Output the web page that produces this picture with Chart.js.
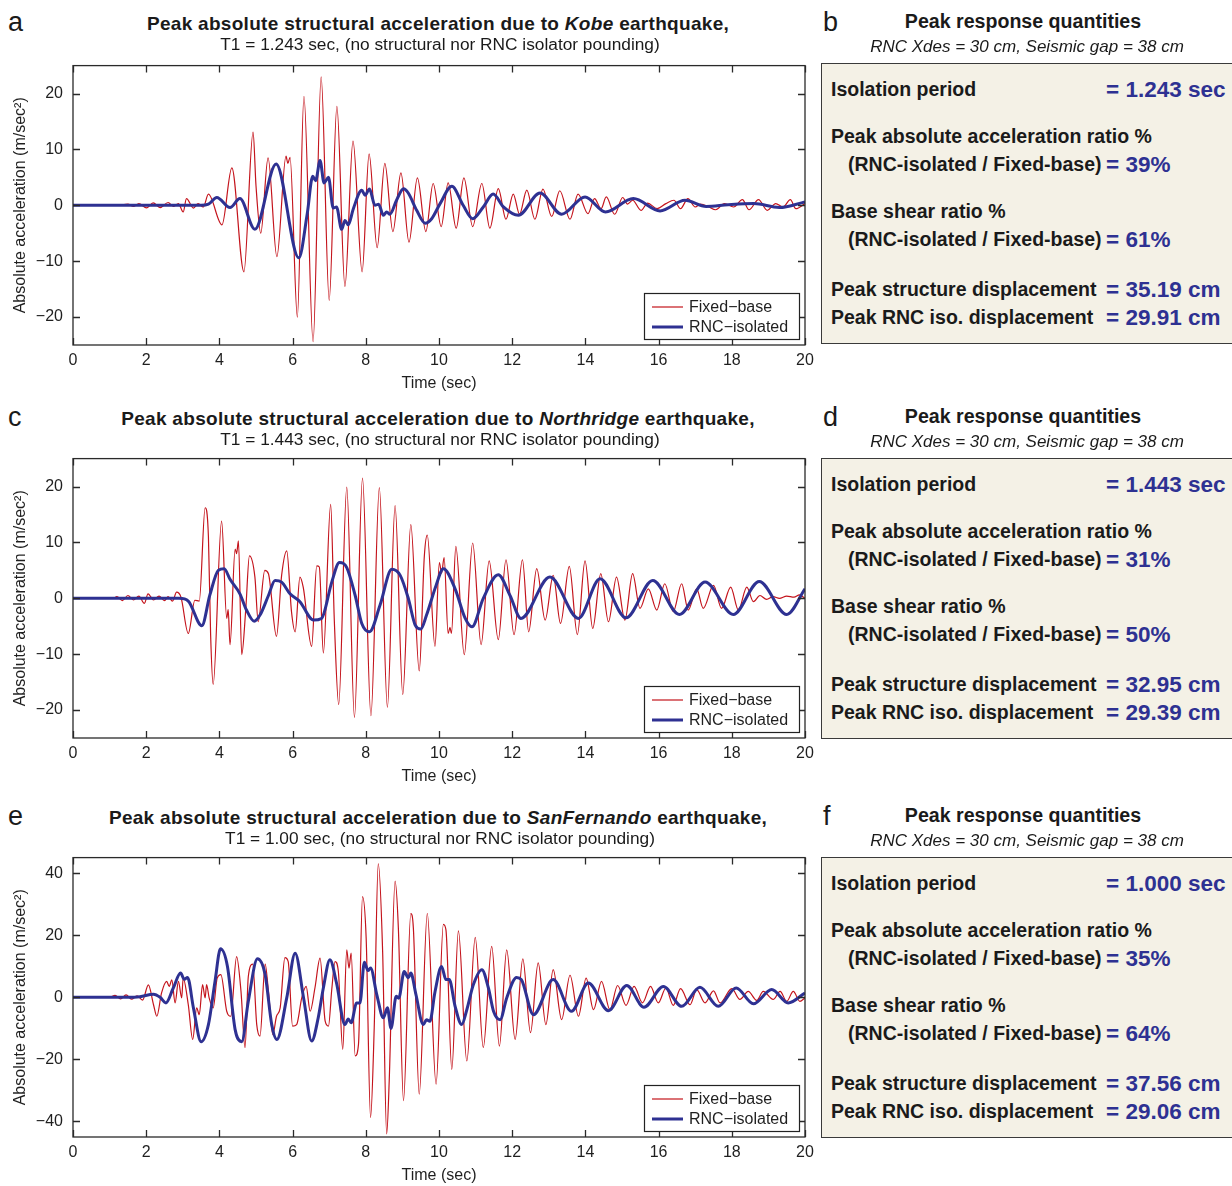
<!DOCTYPE html>
<html>
<head>
<meta charset="utf-8">
<script src="https://cdn.jsdelivr.net/npm/chart.js@4.4.0/dist/chart.umd.min.js"></script>
<style>
  body { margin: 0; background: #fff; font-family: 'Liberation Sans', Arial, sans-serif; color: #1a1a1a; }
  #page { position: relative; width: 1232px; height: 1186px; overflow: hidden; }
  .abs { position: absolute; white-space: nowrap; line-height: 1; }
  .letter { font-size: 27px; transform: translate(0, -50%); }
  .title { font-weight: bold; font-size: 19px; letter-spacing: 0.3px; transform: translate(-50%, -50%); }
  .sub { font-size: 17.3px; transform: translate(-50%, -50%); }
  .head { font-weight: bold; font-size: 19.6px; transform: translate(-50%, -50%); }
  .headsub { font-style: italic; font-size: 17px; transform: translate(-50%, -50%); }
  .box { position: absolute; left: 821px; width: 430px; height: 281px; background: #f4f1e6; border: 1.5px solid #3a3a3a; box-sizing: border-box; }
  .lbl { font-weight: bold; font-size: 19.5px; transform: translate(0, -50%); }
  .val { font-weight: bold; font-size: 22.5px; color: #2e3192; transform: translate(0, -50%); }
  canvas { position: absolute; left: 0; }
</style>
</head>
<body>
<div id="page">
  <canvas id="chartA" width="820" height="354" style="top:46px"></canvas>
  <canvas id="chartC" width="820" height="354" style="top:439px"></canvas>
  <canvas id="chartE" width="820" height="354" style="top:838px"></canvas>
</div>
<script>
// earthquake records and summary numbers
const quakes = ['Kobe', 'Northridge', 'SanFernando'];
const titlePeriods = ['1.243', '1.443', '1.00'];
const isolationPeriods = [1.243, 1.443, 1.000];
const accelRatios = [39, 31, 35];
const shearRatios = [61, 50, 64];
const structDisp = [35.19, 32.95, 37.56];
const isoDisp = [29.91, 29.39, 29.06];
const rncXdes = 30;
const seismicGap = 38;

const timeTicks = [0, 2, 4, 6, 8, 10, 12, 14, 16, 18, 20];
const accelTicks = [-20, -10, 0, 10, 20];
const accelTicksWide = [-40, -20, 0, 20, 40];
const seriesNames = ['Fixed\u2212base', 'RNC\u2212isolated'];

// [time (sec), acceleration (m/sec^2)] at the turning points of each response
const kobeFixed = [
  [0, 0], [1.2, 0], [1.5, 0.2], [1.65, -0.2], [1.8, 0.3], [2.01, -0.47], [2.19, 0.43], [2.38, -0.4],
  [2.6, 0.5], [2.74, -0.2], [2.88, 0.3], [3.01, -1.2], [3.1, 1.2], [3.29, -0.5], [3.42, 0.3], [3.56, -0.3],
  [3.7, 2.0], [4.07, -3.5], [4.34, 6.7], [4.67, -11.9], [4.92, 13.1], [5.0, 3.5], [5.13, -5.0], [5.33, 8.5],
  [5.57, -9.2], [5.82, 8.8], [5.87, 7.5], [5.93, 8.6], [6.13, -20], [6.31, 19.5], [6.56, -24.4], [6.78, 23],
  [7.0, -17], [7.21, 17.7], [7.43, -14.5], [7.65, 11.5], [7.9, -11.9], [8.09, 9.2], [8.31, -7.6], [8.52, 7.5],
  [8.74, -4.7], [8.96, 5.8], [9.18, -6.6], [9.41, 4.9], [9.64, -4.7], [9.84, 3.9], [10.06, -3.8], [10.25, 4.0],
  [10.47, -4.1], [10.68, 4.9], [10.92, -3.8], [11.17, 3.9], [11.39, -4.1], [11.62, 3.0], [11.83, -2.5], [12.03, 2.0],
  [12.2, -1.6], [12.4, 2.7], [12.62, -2.5], [12.84, 2.9], [13.08, -2.0], [13.3, 2.6], [13.58, -2.5], [13.8, 2.0],
  [14.07, -1.5], [14.25, 1.2], [14.43, -0.6], [14.57, 1.5], [14.8, -1.6], [15.02, 1.4], [15.15, 0.2], [15.29, 0.9],
  [15.52, -0.9], [15.7, 0.4], [15.96, -0.6], [16.2, 0.3], [16.42, 0.9], [16.6, -0.6], [16.8, 1.2], [17.0, -0.3],
  [17.15, 0.2], [17.35, -0.2], [17.56, -0.8], [17.8, 0.3], [18.05, -0.3], [18.29, 1.0], [18.47, -0.8], [18.73, 1.0],
  [18.97, -0.9], [19.2, 0.3], [19.4, -0.3], [19.6, 1.0], [19.75, -0.6], [20, 0.3]
];
const kobeIso = [
  [0, 0], [3.5, 0], [3.7, 0.2], [3.93, 1.4], [4.29, -0.4], [4.56, 1.2], [4.97, -4.3], [5.55, 7.4],
  [6.17, -9.4], [6.4, -1.5], [6.55, 5.2], [6.63, 4.4], [6.75, 8.0], [6.86, 4.0], [6.98, 5.0], [7.11, -0.5],
  [7.2, -0.3], [7.34, -4.3], [7.43, -2.7], [7.52, -3.5], [7.66, -0.6], [7.89, 2.7], [7.98, 1.8], [8.1, 2.9],
  [8.25, 0], [8.35, 0.2], [8.48, -1.8], [8.57, -1.2], [8.66, -1.6], [8.84, 0.9], [9.03, 2.95], [9.16, 2.2],
  [9.39, -0.9], [9.62, -3.2], [9.8, -2.4], [10.03, 0.3], [10.35, 3.4], [10.66, 0], [10.92, -2.4], [11.21, -0.3],
  [11.48, 2.0], [11.76, -0.3], [12.17, -1.8], [12.76, 2.2], [13.35, -1.6], [13.99, 1.5], [14.55, -1.2], [15.31, 1.2],
  [16.04, -1.0], [16.72, 0.9], [17.3, -0.2], [17.9, 0.1], [18.6, 0.3], [19.3, -0.4], [20, 0.6]
];

const northFixed = [
  [0, 0], [1.1, 0], [1.2, 0.3], [1.35, -0.4], [1.5, 0.5], [1.65, -0.3], [1.8, 0.4], [1.95, -0.9],
  [2.05, 0.8], [2.2, -0.3], [2.35, 0.4], [2.5, -0.4], [2.6, 0.3], [2.72, -0.5], [2.83, 1.1], [2.95, 0.2],
  [3.15, -6.3], [3.33, -0.35], [3.45, -0.5], [3.61, 16.2], [3.7, 11], [3.76, -6.5], [3.83, -15.4], [4.06, 13.8],
  [4.2, -3.6], [4.24, -2.0], [4.29, -8.3], [4.43, 8.8], [4.47, 8.0], [4.52, 10.3], [4.61, -10.1], [4.72, -2],
  [4.82, 7.6], [4.97, 3.8], [5.06, -4.2], [5.24, 5.0], [5.34, 4.4], [5.56, -6.8], [5.7, 4.1], [5.84, 8.5],
  [5.97, -2.4], [6.07, -6.0], [6.2, 3.8], [6.29, 2.0], [6.52, -8.6], [6.66, 5.8], [6.73, 5.6], [6.84, -9.8],
  [7.04, 16.8], [7.14, -4], [7.26, -19], [7.48, 19.9], [7.69, -21.3], [7.91, 21.5], [8.14, -21], [8.37, 19.8],
  [8.59, -19.5], [8.8, 16.6], [9.01, -17.2], [9.23, 13.2], [9.46, -13], [9.6, 7.6], [9.68, 11.3], [9.89, -8.6],
  [10.01, 6.4], [10.07, 4.5], [10.14, 7.3], [10.25, -6.3], [10.3, -5.2], [10.34, -6.3], [10.46, 9.3], [10.69, -10.1],
  [10.92, 9.9], [11.15, -8.3], [11.37, 6.7], [11.62, -7.4], [11.83, 6.9], [12.05, -6.5], [12.28, 6.9], [12.45, -6],
  [12.67, 5.3], [12.9, -3.9], [13.12, 4.1], [13.32, -4.5], [13.56, 5.7], [13.78, -6.5], [13.99, 6.7], [14.2, -5.4],
  [14.42, 4.4], [14.63, -4.2], [14.85, 3.8], [15.08, -3.9], [15.29, 4.4], [15.49, -1.8], [15.72, 1.7], [15.95, -2.1],
  [16.17, 2.6], [16.4, -2.4], [16.63, 2.6], [16.81, -2.1], [17.04, 1.7], [17.22, -1.8], [17.5, 2.3], [17.72, -1.8],
  [17.97, 2.0], [18.18, -2.1], [18.41, 2.0], [18.59, -0.6], [18.77, 0.5], [18.95, -0.2], [19.13, 0.3], [19.3, 0.0],
  [19.5, 0.4], [19.7, 0.2], [19.85, 0.6], [20, 0]
];
const northIso = [
  [0, 0], [2.9, 0], [3.15, -0.5], [3.52, -4.9], [3.74, 0.6], [3.97, 5.0], [4.13, 5.3], [4.29, 3.4],
  [4.56, 0.8], [4.74, -2.1], [4.95, -4.1], [5.11, -3.0], [5.34, 0.5], [5.52, 3.2], [5.7, 2.9], [5.93, 0.8],
  [6.2, -0.6], [6.57, -3.9], [6.79, -3.6], [7.07, 2.9], [7.28, 6.4], [7.48, 5.5], [7.71, 0.5], [7.89, -4.5],
  [8.1, -6.0], [8.39, -1.2], [8.71, 5.2], [8.94, 4.1], [9.16, 0], [9.35, -4.8], [9.5, -5.5], [9.66, -3.0],
  [9.92, 2.3], [10.12, 5.3], [10.44, 1.7], [10.71, -3.5], [10.9, -5.1], [11.21, 0], [11.62, 4.2], [11.94, 0.5],
  [12.24, -3.6], [13.03, 3.8], [13.81, -3.6], [14.4, 3.5], [15.11, -3.5], [15.84, 3.2], [16.57, -2.9], [17.27, 2.9],
  [18.04, -2.9], [18.75, 3.0], [19.5, -2.9], [20, 1.7]
];

const sanFerFixed = [
  [0, 0], [1.0, 0], [1.15, 0.6], [1.3, -0.5], [1.45, 0.8], [1.6, -0.6], [1.75, 0.5], [1.9, -0.9],
  [2.06, 4.0], [2.2, -2.4], [2.29, -6.1], [2.42, 1.4], [2.56, 5.1], [2.63, 3.5], [2.7, 5.6], [2.79, -1.8],
  [2.88, 5.1], [2.97, -0.2], [3.01, 6.2], [3.15, -2.4], [3.27, -13.6], [3.38, -3.4], [3.45, -5.6], [3.54, 4.1],
  [3.61, -0.2], [3.65, 4.1], [3.72, -0.2], [3.83, -3.4], [3.94, 6.2], [4.04, 7.3], [4.2, -4.5], [4.31, -6.1],
  [4.47, 13.1], [4.59, 1.9], [4.7, -16.2], [4.79, 6.7], [4.91, 10.7], [5.02, -8.8], [5.11, -12.5], [5.25, 10.7],
  [5.34, 1.9], [5.46, -12], [5.56, -6.1], [5.66, -3.4], [5.79, 12.8], [5.88, 11.5], [6.0, -9.3], [6.11, -8.8],
  [6.25, -0.2], [6.37, 3.5], [6.48, -4.5], [6.61, 3.0], [6.75, 12.6], [6.89, -7.7], [6.98, -9.3], [7.07, 2.5],
  [7.16, 11.5], [7.25, 8.3], [7.37, -16.8], [7.48, 15.3], [7.54, 9.4], [7.6, 14.2], [7.71, -18.9], [7.8, -15.2],
  [7.91, 32.4], [8.01, 19], [8.13, -38.7], [8.23, -9.8], [8.34, 43], [8.46, 14.7], [8.57, -44], [8.64, -26.9],
  [8.8, 37.4], [8.89, 22.2], [9.03, -33.3], [9.23, 27], [9.3, 22.2], [9.46, -31.2], [9.68, 27], [9.92, -28],
  [10.12, 23.5], [10.19, 21.7], [10.35, -23.2], [10.53, 21.4], [10.76, -20.5], [10.99, 19.3], [11.21, -16.2], [11.44, 16.4],
  [11.65, -15.7], [11.85, 15.3], [12.08, -13.6], [12.29, 12.4], [12.5, -11.4], [12.71, 11.1], [12.92, -8.8], [13.12, 8.9],
  [13.35, -7.2], [13.58, 7.1], [13.81, -6.1], [14.02, 6.2], [14.22, -4.0], [14.44, 5.1], [14.67, -4.0], [14.88, 3.8],
  [15.11, -2.6], [15.33, 3.5], [15.56, -1.8], [15.78, 3.5], [15.99, -1.8], [16.2, 3.0], [16.4, -2.6], [16.6, 2.8],
  [16.86, -2.4], [17.04, 2.5], [17.27, -1.8], [17.5, 2.1], [17.68, -1.8], [18.0, 2.8], [18.22, -0.7], [18.45, 1.9],
  [18.68, -1.0], [18.86, 1.9], [19.13, -0.7], [19.32, 1.9], [19.5, -1.3], [19.68, 1.9], [19.86, -1.3], [20, -0.2]
];
const sanFerIso = [
  [0, 0], [1.5, 0], [1.83, 0.2], [2.2, 1.0], [2.38, 0], [2.54, -1.8], [2.74, 3.0], [2.94, 7.8],
  [3.04, 5.8], [3.13, 6.4], [3.29, -3.4], [3.5, -14.3], [3.7, -8.8], [3.88, 5.1], [4.03, 15.6], [4.22, 9.9],
  [4.43, -10.4], [4.61, -14.3], [4.79, -1.3], [5.04, 12.4], [5.25, 7.3], [5.43, -8.8], [5.57, -13.6], [5.84, -0.2],
  [6.07, 14.2], [6.3, -0.2], [6.52, -14.1], [6.7, -6.6], [6.84, 3.0], [7.02, 12.1], [7.2, 4.6], [7.43, -8.8],
  [7.52, -7.0], [7.6, -8.2], [7.75, -1.8], [7.84, -1.8], [7.96, 11.3], [8.06, 8.6], [8.13, 9.4], [8.3, 0.9],
  [8.48, -6.6], [8.59, -3.4], [8.69, -10], [8.83, 0.3], [8.9, -0.3], [9.05, 8.3], [9.16, 6.3], [9.23, 7.8],
  [9.37, 0.9], [9.57, -8.8], [9.66, -7.2], [9.75, -7.7], [9.89, 1.7], [10.07, 9.9], [10.19, 5.7], [10.28, 5.7],
  [10.44, -2.9], [10.62, -8.8], [10.76, -4.0], [10.94, 4.1], [11.17, 8.9], [11.35, 3.0], [11.49, -4.5], [11.67, -7.2],
  [11.85, -0.2], [12.12, 6.4], [12.25, 5.7], [12.58, -5.6], [13.12, 5.7], [13.62, -4.5], [14.08, 4.6], [14.63, -4.3],
  [15.13, 3.8], [15.6, -3.2], [16.13, 3.5], [16.63, -2.9], [17.13, 3.2], [17.63, -2.9], [18.12, 3.0], [18.59, -2.1],
  [19.09, 2.5], [19.54, -1.8], [20, 1.4]
];

const RED = '#c4141c';
const BLUE = '#2e3192';
const INK = '#1f1f1f';
const FONT = "'Liberation Sans', Arial, sans-serif";

// box, inward ticks on all four sides and a legend in the lower-right corner
const framePlugin = {
  id: 'frame',
  afterDatasetsDraw(chart) {
    const { ctx, chartArea: a, scales: { x, y } } = chart;
    ctx.save();
    ctx.strokeStyle = '#2a2a2a';
    ctx.lineWidth = 1.3;
    ctx.beginPath();
    x.ticks.forEach(t => {
      const px = Math.round(x.getPixelForValue(t.value)) + 0.5;
      ctx.moveTo(px, a.bottom); ctx.lineTo(px, a.bottom - 7);
      ctx.moveTo(px, a.top); ctx.lineTo(px, a.top + 7);
    });
    y.ticks.forEach(t => {
      const py = Math.round(y.getPixelForValue(t.value)) + 0.5;
      ctx.moveTo(a.left, py); ctx.lineTo(a.left + 7, py);
      ctx.moveTo(a.right, py); ctx.lineTo(a.right - 7, py);
    });
    ctx.stroke();
    ctx.strokeRect(a.left, a.top, a.right - a.left, a.bottom - a.top);

    const w = 155, h = 46;
    const lx = a.right - 6 - w, ly = a.bottom - 6 - h;
    ctx.fillStyle = '#fff';
    ctx.fillRect(lx, ly, w, h);
    ctx.lineWidth = 1.2;
    ctx.strokeStyle = '#222';
    ctx.strokeRect(lx + 0.5, ly + 0.5, w, h);
    ctx.font = '16px ' + FONT;
    ctx.textBaseline = 'middle';
    chart.data.datasets.forEach((ds, i) => {
      const ry = ly + 14 + i * 20;
      ctx.strokeStyle = ds.borderColor;
      ctx.lineWidth = ds.borderWidth;
      ctx.beginPath();
      ctx.moveTo(lx + 8, ry); ctx.lineTo(lx + 39, ry);
      ctx.stroke();
      ctx.fillStyle = INK;
      ctx.fillText(ds.label, lx + 45, ry + 1);
    });
    ctx.restore();
  }
};

function drawChart(id, fixed, iso, yLim, yTicks) {
  const pts = arr => arr.map(([t, v]) => ({ x: t, y: v }));
  const font = { family: FONT, size: 16 };
  return new Chart(document.getElementById(id), {
    type: 'line',
    data: {
      datasets: [
        { label: seriesNames[0], data: pts(fixed), borderColor: RED, borderWidth: 1.2,
          pointRadius: 0, cubicInterpolationMode: 'monotone', order: 2 },
        { label: seriesNames[1], data: pts(iso), borderColor: BLUE, borderWidth: 3,
          pointRadius: 0, cubicInterpolationMode: 'monotone', order: 1 }
      ]
    },
    options: {
      responsive: false,
      animation: false,
      layout: { padding: { top: 12, right: 15, left: 0, bottom: 0 } },
      plugins: { legend: { display: false }, tooltip: { enabled: false } },
      scales: {
        x: {
          type: 'linear', min: 0, max: 20,
          afterBuildTicks: s => { s.ticks = timeTicks.map(v => ({ value: v })); },
          ticks: { font, color: INK, padding: 6, maxRotation: 0, autoSkip: false },
          grid: { display: false, drawTicks: false },
          border: { display: false },
          title: { display: true, text: 'Time (sec)', font, color: INK, padding: { top: 0, bottom: 7 } },
          afterFit: s => { s.height = 55; }
        },
        y: {
          min: -yLim, max: yLim,
          afterBuildTicks: s => { s.ticks = yTicks.map(v => ({ value: v })); },
          ticks: { font, color: INK, padding: 10, autoSkip: false,
                   callback: v => String(v).replace('-', '\u2212') },
          grid: { display: false, drawTicks: false },
          border: { display: false },
          title: { display: true, text: 'Absolute acceleration (m/sec\u00b2)', font, color: INK,
                   padding: { top: 11, bottom: 0 } },
          afterFit: s => { s.width = 73; }
        }
      }
    },
    plugins: [framePlugin]
  });
}

drawChart('chartA', kobeFixed, kobeIso, 25, accelTicks);
drawChart('chartC', northFixed, northIso, 25, accelTicks);
drawChart('chartE', sanFerFixed, sanFerIso, 45, accelTicksWide);

// titles and the peak-response boxes
const page = document.getElementById('page');
function put(cls, x, y, html) {
  const d = document.createElement('div');
  d.className = 'abs ' + cls;
  d.style.left = x + 'px';
  d.style.top = y + 'px';
  d.innerHTML = html;
  page.appendChild(d);
  return d;
}

const rowTops = [22, 417, 816];
const boxTops = [63, 458, 857];
const leftLetters = ['a', 'c', 'e'];
const rightLetters = ['b', 'd', 'f'];

quakes.forEach((q, i) => {
  const ty = rowTops[i];
  put('letter', 8, ty, leftLetters[i]);
  put('title', 438, ty + 1, 'Peak absolute structural acceleration due to <i>' + q + '</i> earthquake,');
  put('sub', 440, ty + 23, 'T1 = ' + titlePeriods[i] + ' sec, (no structural nor RNC isolator pounding)');

  put('letter', 823, ty, rightLetters[i]);
  put('head', 1023, ty, 'Peak response quantities');
  put('headsub', 1027, ty + 24, 'RNC Xdes = ' + rncXdes + ' cm, Seismic gap = ' + seismicGap + ' cm');

  const bt = boxTops[i];
  const box = document.createElement('div');
  box.className = 'box';
  box.style.top = bt + 'px';
  page.appendChild(box);

  const vx = 1106;
  put('lbl', 831, bt + 27, 'Isolation period');
  put('val', vx, bt + 27, '= ' + isolationPeriods[i].toFixed(3) + ' sec');
  put('lbl', 831, bt + 74, 'Peak absolute acceleration ratio %');
  put('lbl', 848, bt + 102, '(RNC-isolated / Fixed-base)');
  put('val', vx, bt + 102, '= ' + accelRatios[i] + '%');
  put('lbl', 831, bt + 149, 'Base shear ratio %');
  put('lbl', 848, bt + 177, '(RNC-isolated / Fixed-base)');
  put('val', vx, bt + 177, '= ' + shearRatios[i] + '%');
  put('lbl', 831, bt + 227, 'Peak structure displacement');
  put('val', vx, bt + 227, '= ' + structDisp[i].toFixed(2) + ' cm');
  put('lbl', 831, bt + 255, 'Peak RNC iso. displacement');
  put('val', vx, bt + 255, '= ' + isoDisp[i].toFixed(2) + ' cm');
});
</script>
</body>
</html>
